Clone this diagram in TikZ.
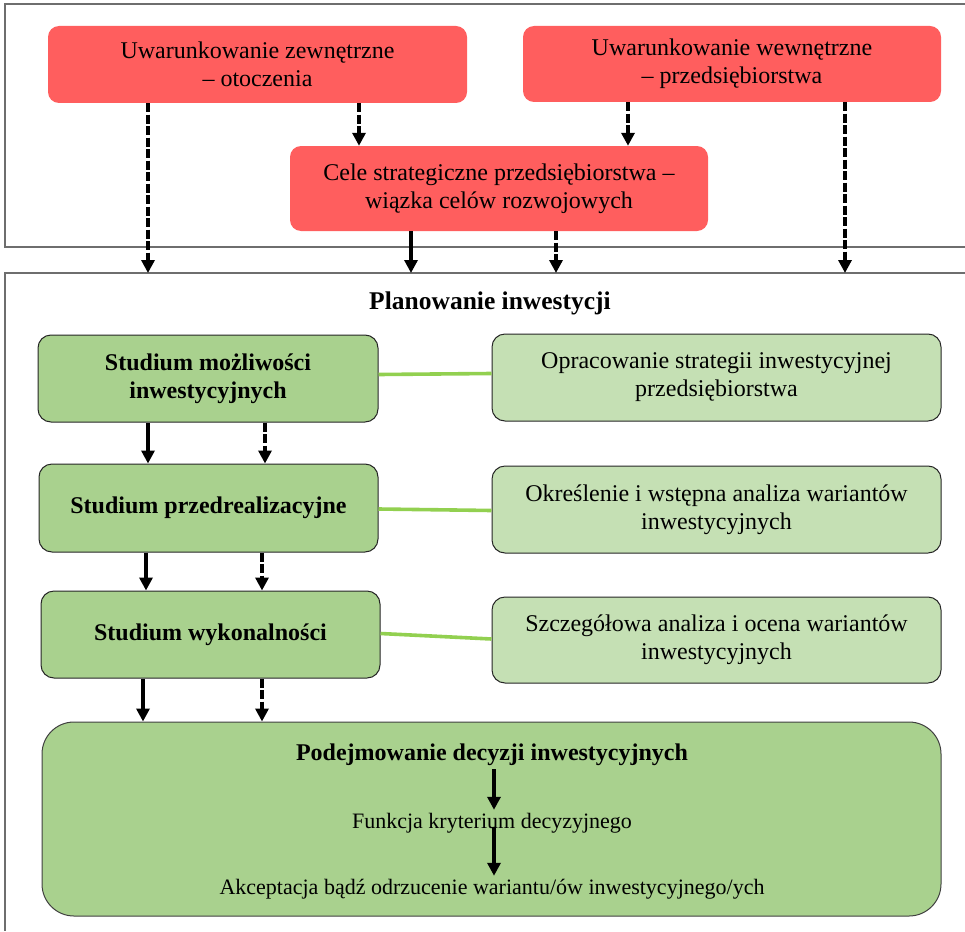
\documentclass[tikz,border=0pt]{standalone}
\usepackage{fontspec}
\setmainfont{Liberation Serif}
\usetikzlibrary{arrows.meta,calc}
\definecolor{goalred}{RGB}{255,94,94}
\definecolor{studygreen}{RGB}{169,209,142}
\definecolor{palegreen}{RGB}{197,224,180}
\definecolor{linkgreen}{RGB}{146,208,80}
\definecolor{framegray}{RGB}{110,110,110}

\begin{document}
\begin{tikzpicture}[x=1pt,y=-1pt,
  every node/.style={font=\fontsize{24}{28}\selectfont, align=center, inner sep=0pt},
  goalbox/.style={fill=goalred, rounded corners=11pt},
  studybox/.style={fill=studygreen, draw=black!85, line width=1pt, rounded corners=13pt,
                   font=\fontsize{24}{28}\selectfont\bfseries},
  taskbox/.style={fill=palegreen, draw=black!85, line width=1pt, rounded corners=13pt},
  steptext/.style={font=\fontsize{22}{26}\selectfont},
  solidarrow/.style={line width=3.6pt, -{Triangle[width=13pt,length=13pt]}},
  dasharrow/.style={solidarrow, dash pattern=on 9pt off 2.5pt},
  link/.style={linkgreen, line width=3.6pt},
  frame/.style={framegray, line width=1.6pt}
]
\useasboundingbox (0,0) rectangle (965,931);

% surrounding frames
\draw[frame] (965,4) -- (5,4) -- (5,247) -- (965,247);
\draw[frame] (965,273) -- (5,273) -- (5,931);

% strategic conditions and goals
\node[goalbox, minimum width=419pt, minimum height=77pt] (ext) at (257.5,64.5)
  {Uwarunkowanie zewnętrzne\\– otoczenia};
\node[goalbox, minimum width=418pt, minimum height=76pt] (int) at (732,64)
  {Uwarunkowanie wewnętrzne\\– przedsiębiorstwa};
\node[goalbox, minimum width=418pt, minimum height=85pt] (goals) at (499,188.5)
  {Cele strategiczne przedsiębiorstwa –\\wiązka celów rozwojowych};

% entry points on the planning frame
\coordinate (inA) at (148,273);
\coordinate (inB) at (411,273);
\coordinate (inC) at (556,273);
\coordinate (inD) at (845,273);

\draw[dasharrow] (ext.south -| inA) -- (inA);
\draw[dasharrow] (ext.south -| 359,0) -- (goals.north -| 359,0);
\draw[dasharrow] (int.south -| 628,0) -- (goals.north -| 628,0);
\draw[dasharrow] (int.south -| inD) -- (inD);
\draw[solidarrow] (goals.south -| inB) -- (inB);
\draw[dasharrow] (goals.south -| inC) -- (inC);

% investment planning
\node[font=\fontsize{25.5}{30}\selectfont\bfseries] (title) at (490,303) {Planowanie inwestycji};

\node[studybox, minimum width=340pt, minimum height=87pt] (s1) at (208,378.5)
  {Studium możliwości\\inwestycyjnych};
\node[studybox, minimum width=339pt, minimum height=88pt] (s2) at (208.5,508)
  {Studium przedrealizacyjne};
\node[studybox, minimum width=339pt, minimum height=87pt] (s3) at (210.5,634.5)
  {Studium wykonalności};

\node[taskbox, minimum width=449pt, minimum height=87pt] (t1) at (716.5,377.5)
  {Opracowanie strategii inwestycyjnej\\przedsiębiorstwa};
\node[taskbox, minimum width=449pt, minimum height=87pt] (t2) at (716.5,509.5)
  {Określenie i wstępna analiza wariantów\\inwestycyjnych};
\node[taskbox, minimum width=449pt, minimum height=86pt] (t3) at (716.5,640)
  {Szczegółowa analiza i ocena wariantów\\inwestycyjnych};

\draw[link] ([yshift=4pt]s1.east) -- ([yshift=4pt]t1.west);
\draw[link] ([yshift=-1pt]s2.east) -- ([yshift=-1pt]t2.west);
\draw[link] ([yshift=1pt]s3.east) -- ([yshift=1pt]t3.west);

\draw[solidarrow] (s1.south -| 148,0) -- (s2.north -| 148,0);
\draw[dasharrow] (s1.south -| 265,0) -- (s2.north -| 265,0);
\draw[solidarrow] (s2.south -| 146,0) -- (s3.north -| 146,0);
\draw[dasharrow] (s2.south -| 262,0) -- (s3.north -| 262,0);

% investment decision
\node[fill=studygreen, draw=black!75, line width=1pt, rounded corners=32pt,
      minimum width=899pt, minimum height=194pt] (dec) at (491.5,819) {};
\node[font=\fontsize{24}{28}\selectfont\bfseries] (dtitle) at (492,755)
  {Podejmowanie decyzji inwestycyjnych};
\node[steptext] (crit) at (492,823) {Funkcja kryterium decyzyjnego};
\node[steptext] (accept) at (492,889) {Akceptacja bądź odrzucenie wariantu/ów inwestycyjnego/ych};

\draw[solidarrow] (s3.south -| 143,0) -- (dec.north -| 143,0);
\draw[dasharrow] (s3.south -| 262,0) -- (dec.north -| 262,0);

\draw[solidarrow] ($(dtitle.south)+(2,3)$) -- ($(crit.north)+(2,-3)$);
\draw[solidarrow] ($(crit.south)+(2,-6)$) -- ($(accept.north)+(2,-3)$);
\end{tikzpicture}
\end{document}
